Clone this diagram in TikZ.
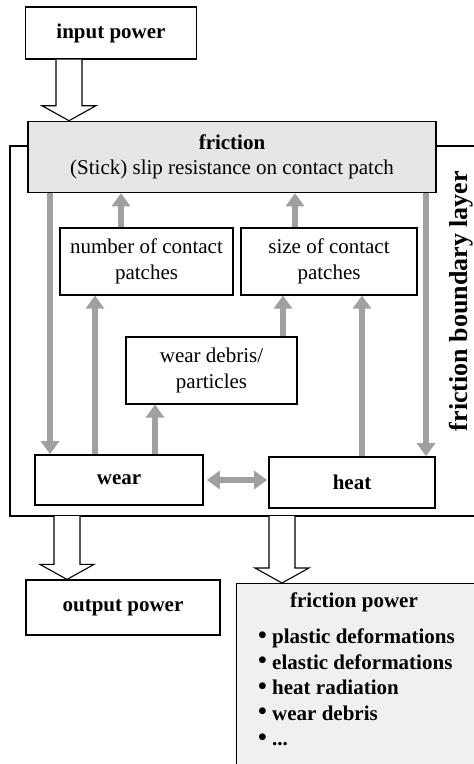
\documentclass[tikz,border=0pt]{standalone}
\usepackage{fontspec}
\setmainfont{Liberation Serif}
\usetikzlibrary{arrows.meta,calc}
\definecolor{flowgray}{RGB}{160,160,160}
\definecolor{fricfill}{RGB}{230,230,230}
\definecolor{powfill}{RGB}{240,240,240}
\newcommand{\diagfont}{\fontsize{21}{25.5}\selectfont}
\newcommand{\dotitem}{\raisebox{0.5pt}{\fontsize{25}{25}\selectfont\textbullet}\ }
% hollow power arrow: #1 start, #2 tip
\newcommand{\powerflow}[2]{%
  \draw[line width=1.1pt,fill=white] let \p1=#1, \p2=#2 in
    (\x1-13pt,\y1) -- (\x1-13pt,\y2+15pt) -- (\x1-27pt,\y2+15pt) -- (\x1,\y2)
    -- (\x1+27pt,\y2+15pt) -- (\x1+13pt,\y2+15pt) -- (\x1+13pt,\y1);
}

\begin{document}
\begin{tikzpicture}[x=1pt,y=-1pt,
    every node/.style={font=\diagfont},
    block/.style={draw,line width=1.2pt,inner sep=0pt,align=center},
    flow/.style={draw=flowgray,line width=6pt,-{Triangle[width=18pt,length=13pt]}},
    bothflow/.style={flow,{Triangle[width=18pt,length=13pt]}-{Triangle[width=18pt,length=13pt]}}]
  \useasboundingbox (0,0) rectangle (474,764);
  \clip (0,0) rectangle (474,764);

  % boundary layer frame
  \draw[line width=2pt] (10,146) rectangle (490,516);
  \coordinate (frameSW) at (10,516);
  \node[font=\fontsize{26}{30}\selectfont\bfseries,rotate=90,inner sep=0pt] (layer) at (461,301) {friction boundary layer};

  % boxes
  \node[block,minimum width=171pt,minimum height=52pt,font=\diagfont\bfseries] (inp) at (111,33) {input power};
  \node[block,line width=1.6pt,fill=fricfill,minimum width=408pt,minimum height=71pt] (fric) at (232,157)
    {\textbf{friction}\\(Stick) slip resistance on contact patch};
  \node[block,minimum width=173pt,minimum height=67pt] (num) at (146.5,261.5) {number of contact\\patches};
  \node[block,minimum width=176pt,minimum height=67pt] (size) at (329,261.5) {size of contact\\patches};
  \node[block,minimum width=171pt,minimum height=67pt] (debris) at (211.5,370.5) {wear debris/\\particles};
  \node[block,line width=1.8pt,minimum width=168pt,minimum height=50pt,font=\diagfont\bfseries] (wear) at (119,480) {wear};
  \node[block,line width=1.8pt,minimum width=166pt,minimum height=51pt,font=\diagfont\bfseries] (heat) at (352,482.5) {heat};
  \node[block,minimum width=194pt,minimum height=55pt,font=\diagfont\bfseries] (outp) at (123,607.5) {output power};
  \node[block,fill=powfill,anchor=north west,minimum width=260pt,minimum height=200pt] (fpow) at (236,583) {};
  \node[font=\diagfont\bfseries] (fptitle) at (354,602) {friction power};
  \node[anchor=north west,align=left,inner sep=0pt,font=\diagfont\bfseries] (fplist) at (258,629)
    {\dotitem plastic deformations\\
     \dotitem elastic deformations\\
     \dotitem heat radiation\\
     \dotitem wear debris\\
     \dotitem ...};

  % power arrows
  \powerflow{(inp.south -| 69,0)}{(fric.north -| 69,0)}
  \powerflow{(frameSW -| 67,0)}{(outp.north -| 67,0)}
  \powerflow{(frameSW -| 282,0)}{(fpow.north -| 282,0)}

  % grey interaction arrows
  \draw[flow] (fric.south -| 50,0) -- (wear.north -| 50,0);
  \draw[flow] (wear.north -| 95,0) -- (num.south -| 95,0);
  \draw[flow] (num.north -| 121,0) -- (fric.south -| 121,0);
  \draw[flow] (wear.north -| 155,0) -- (debris.south -| 155,0);
  \draw[flow] (debris.north -| 283,0) -- (size.south -| 283,0);
  \draw[flow] (size.north -| 295,0) -- (fric.south -| 295,0);
  \draw[flow] (heat.north -| 362,0) -- (size.south -| 362,0);
  \draw[flow] (fric.south -| 426,0) -- (heat.north -| 426,0);
  \draw[bothflow] ([xshift=3pt]wear.east) -- ([xshift=-1pt]heat.west |- wear.east);
\end{tikzpicture}
\end{document}
